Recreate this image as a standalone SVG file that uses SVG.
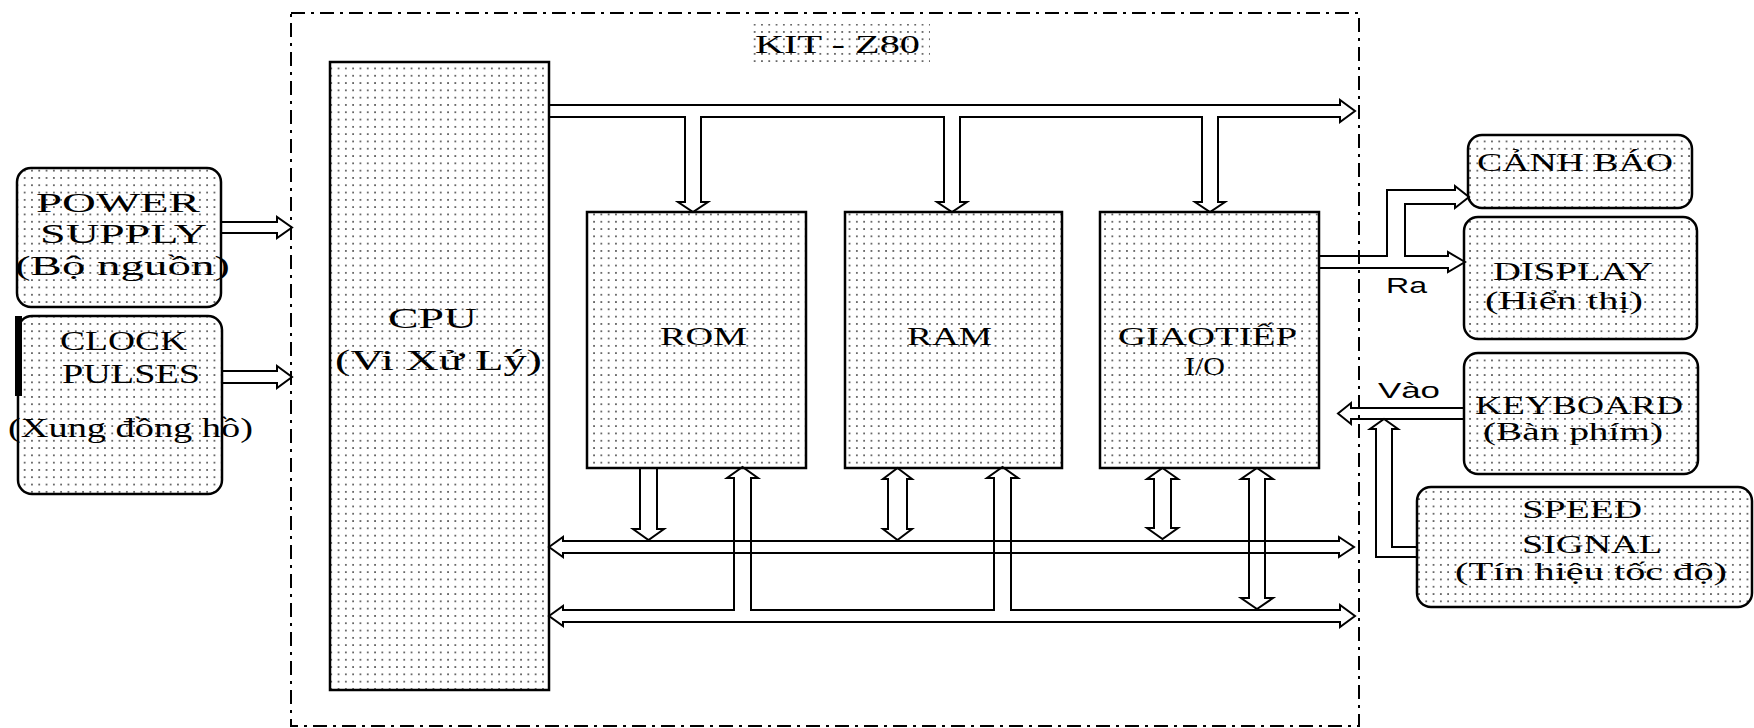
<svg xmlns="http://www.w3.org/2000/svg" width="1754" height="728" viewBox="0 0 1754 728">
<style>
.t{font-family:"Liberation Serif","DejaVu Serif",serif;fill:#000}
.s{font-family:"Liberation Sans","DejaVu Sans",sans-serif;fill:#000}
.box{fill:url(#dots);stroke:#000;stroke-width:2.5}
.c{fill:none;stroke:#000;stroke-width:2;stroke-linejoin:miter}
</style>
<defs>
<pattern id="dots" x="0" y="0" width="7.3" height="7.3" patternUnits="userSpaceOnUse">
<rect x="0" y="0" width="7.3" height="7.3" fill="#fff"/>
<rect x="2" y="2" width="1.5" height="1.5" fill="#222"/>
</pattern>
</defs>
<rect width="1754" height="728" fill="#fff"/>

<g id="kit-frame">
<rect x="291" y="13" width="1068" height="713" fill="none" stroke="#000" stroke-width="2" stroke-dasharray="14 6 3 6"/>
<rect x="750" y="24" width="180" height="39" fill="url(#dots)"/>
<text class="t" x="755" y="53" font-size="26" textLength="165" lengthAdjust="spacingAndGlyphs">KIT - Z80</text>
</g>

<g id="power">
<rect class="box" x="17" y="168" width="204" height="139" rx="14"/>
<text class="t" x="36" y="212" font-size="27" textLength="164" lengthAdjust="spacingAndGlyphs">POWER</text>
<text class="t" x="40" y="243" font-size="27" textLength="167" lengthAdjust="spacingAndGlyphs">SUPPLY</text>
<text class="t" x="15" y="275" font-size="27" textLength="215" lengthAdjust="spacingAndGlyphs">(Bộ nguồn)</text>
</g>

<g id="clock">
<rect class="box" x="18" y="316" width="204" height="178" rx="14"/>
<rect x="15" y="316" width="7" height="80" fill="#000"/>
<text class="t" x="60" y="350" font-size="28" textLength="127" lengthAdjust="spacingAndGlyphs">CLOCK</text>
<text class="t" x="62" y="383" font-size="28" textLength="138" lengthAdjust="spacingAndGlyphs">PULSES</text>
<text class="t" x="8" y="437" font-size="28" textLength="245" lengthAdjust="spacingAndGlyphs">(Xung đồng hồ)</text>
</g>

<g id="cpu">
<rect class="box" x="330" y="62" width="219" height="628"/>
<text class="t" x="388" y="328" font-size="30" textLength="89" lengthAdjust="spacingAndGlyphs">CPU</text>
<text class="t" x="335" y="370" font-size="30" textLength="207" lengthAdjust="spacingAndGlyphs">(Vi Xử Lý)</text>
</g>

<g id="rom">
<rect class="box" x="587" y="212" width="219" height="256"/>
<text class="t" x="660" y="345" font-size="26" textLength="87" lengthAdjust="spacingAndGlyphs">ROM</text>
</g>

<g id="ram">
<rect class="box" x="845" y="212" width="217" height="256"/>
<text class="t" x="907" y="345" font-size="26" textLength="85" lengthAdjust="spacingAndGlyphs">RAM</text>
</g>

<g id="io">
<rect class="box" x="1100" y="212" width="219" height="256"/>
<text class="t" x="1118" y="345" font-size="26" textLength="179" lengthAdjust="spacingAndGlyphs">GIAOTIẾP</text>
<text class="t" x="1185" y="375" font-size="26" textLength="40" lengthAdjust="spacingAndGlyphs">I/O</text>
</g>

<g id="canhbao">
<rect class="box" x="1468" y="135" width="224" height="73" rx="14"/>
<text class="t" x="1477" y="171" font-size="26" textLength="196" lengthAdjust="spacingAndGlyphs">CẢNH BÁO</text>
</g>

<g id="display">
<rect class="box" x="1464" y="217" width="233" height="122" rx="14"/>
<text class="t" x="1493" y="280" font-size="26" textLength="160" lengthAdjust="spacingAndGlyphs">DISPLAY</text>
<text class="t" x="1485" y="309" font-size="26" textLength="158" lengthAdjust="spacingAndGlyphs">(Hiển thị)</text>
</g>

<g id="keyboard">
<rect class="box" x="1464" y="353" width="234" height="121" rx="14"/>
<text class="t" x="1475" y="414" font-size="26" textLength="208" lengthAdjust="spacingAndGlyphs">KEYBOARD</text>
<text class="t" x="1483" y="440" font-size="26" textLength="180" lengthAdjust="spacingAndGlyphs">(Bàn phím)</text>
</g>

<g id="speed">
<rect class="box" x="1417" y="487" width="335" height="120" rx="14"/>
<text class="t" x="1522" y="518" font-size="26" textLength="120" lengthAdjust="spacingAndGlyphs">SPEED</text>
<text class="t" x="1522" y="553" font-size="26" textLength="140" lengthAdjust="spacingAndGlyphs">SIGNAL</text>
<text class="t" x="1455" y="580" font-size="26" textLength="272" lengthAdjust="spacingAndGlyphs">(Tín hiệu tốc độ)</text>
</g>

<g id="connectors">
<path class="c" d="M221,222 H277 V217 L292,227.5 L277,238 V233 H221"/>
<path class="c" d="M222,371 H277 V366 L292,377 L277,388 V383 H222"/>
<path class="c" d="M549,105 H1340 V100 L1355,111 L1340,122 V117 H1218 V202 H1225 L1210,212 L1195,202 H1202 V117 H960 V202 H967 L952,212 L937,202 H944 V117 H701 V202 H708 L693,212 L678,202 H685 V117 H549"/>
<path class="c" d="M549,547 L563,537 V541 H1339 V537 L1354,547 L1339,557 V553 H563 V557 Z"/>
<path class="c" d="M549,616 L563,606 V610 H734 V478 H727 L742.5,467 L758,478 H751 V610 H994 V478 H987 L1002.5,467 L1018,478 H1011 V610 H1340 V605 L1355,616 L1340,627 V622 H563 V626 Z"/>
<path class="c" d="M640,467 V529 H633 L648.5,540 L664,529 H657 V467"/>
<path class="c" d="M897.5,468 L912,479 H907 V529 H912 L897.5,540 L883,529 H888 V479 H883 Z"/>
<path class="c" d="M1162.5,468 L1178,479 H1171 V528 H1178 L1162.5,539 L1147,528 H1154 V479 H1147 Z"/>
<path class="c" d="M1257,468 L1273,479 H1265 V598 H1273 L1257,609 L1241,598 H1249 V479 H1241 Z"/>
<path class="c" d="M1319,256 H1387 V190 H1455 V186 L1469,197 L1455,208 V204 H1405 V256 H1448 V252 L1465,262 L1448,272 V268 H1319"/>
<path class="c" d="M1464,408 H1351 V403 L1338,413.5 L1351,424 V419 H1464"/>
<path class="c" d="M1417,557 H1376 V429 H1370 L1384,419 L1398,429 H1392 V547 H1417"/>
<text class="s" x="1386" y="293" font-size="22" textLength="41" lengthAdjust="spacingAndGlyphs">Ra</text>
<text class="s" x="1378" y="398" font-size="22" textLength="62" lengthAdjust="spacingAndGlyphs">Vào</text>
</g>
</svg>
